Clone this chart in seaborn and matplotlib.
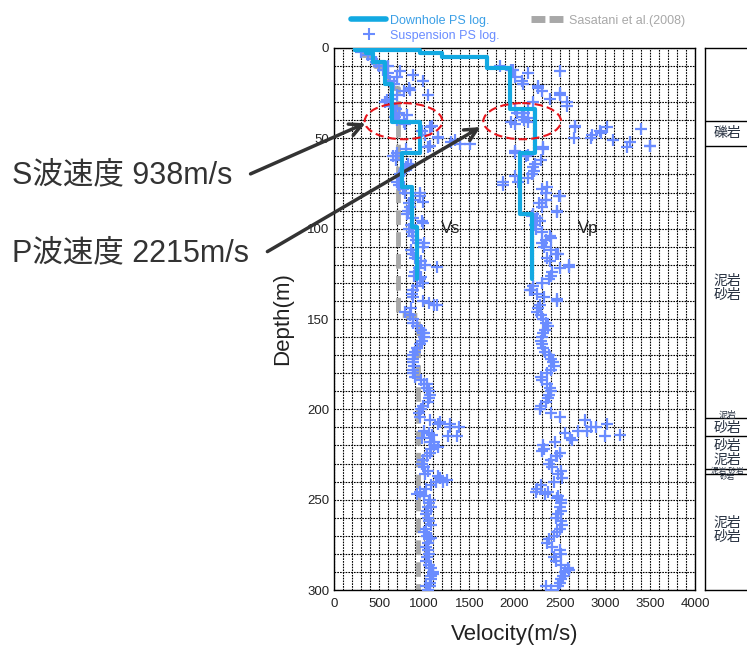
import numpy as np
import matplotlib
matplotlib.use("Agg")
import matplotlib.pyplot as plt
from matplotlib.patches import Ellipse
from matplotlib.lines import Line2D
import seaborn as sns

# --- downhole PS log (layer tops in m, velocity in m/s) ---
vs_dh_top = [0, 1, 3, 8, 20, 41, 58, 77, 99, 128]
vs_dh_vel = [230, 350, 430, 560, 640, 950, 750, 860, 920]
vp_dh_top = [0, 1, 3, 5, 11, 34, 58, 92, 128]
vp_dh_vel = [230, 950, 1200, 1700, 1950, 2230, 2060, 2190]

# --- Sasatani et al. (2008) Vs model ---
sas_top = [0, 4, 10, 22, 148, 300]
sas_vel = [320, 450, 560, 710, 930]

# --- suspension PS log ---
susp_depth = [2, 4, 6, 8, 10, 12, 14, 16, 18, 20,
              22, 24, 26, 28, 30, 32, 34, 36, 38, 40,
              42, 44, 46, 48, 50, 52, 54, 56, 58, 60,
              62, 64, 66, 68, 70, 72, 74, 76, 78, 80,
              82, 84, 86, 88, 90, 92, 94, 96, 98, 100,
              102, 104, 106, 108, 110, 112, 114, 116, 118, 120,
              122, 124, 126, 128, 130, 132, 134, 136, 138, 140,
              142, 144, 146, 148, 150, 152, 154, 156, 158, 160,
              162, 164, 166, 168, 170, 172, 174, 176, 178, 180,
              182, 184, 186, 188, 190, 192, 194, 196, 198, 200,
              202, 204, 206, 208, 210, 212, 214, 216, 218, 220,
              222, 224, 226, 228, 230, 232, 234, 236, 238, 240,
              242, 244, 246, 248, 250, 252, 254, 256, 258, 260,
              262, 264, 266, 268, 270, 272, 274, 276, 278, 280,
              282, 284, 286, 288, 290, 292, 294, 296, 298, 300]
susp_vs = [300, 380, 420, 470, 500, 540, 600, 700, 620, 660,
           830, 780, 700, 620, 560, 640, 690, 720, 680, 700,
           790, 1060, 980, 1010, 1150, 1300, 1060, 800, 700, 650,
           690, 820, 800, 780, 730, 710, 700, 720, 760, 790,
           950, 880, 830, 840, 820, 810, 870, 980, 850, 830,
           860, 880, 910, 930, 990, 850, 880, 900, 960, 1010,
           940, 900, 890, 950, 990, 920, 880, 860, 880, 990,
           1110, 850, 790, 840, 870, 880, 920, 960, 990, 1000,
           980, 950, 920, 900, 880, 870, 880, 890, 870, 880,
           900, 960, 1000, 1030, 1050, 1060, 1050, 1040, 990, 960,
           940, 950, 1060, 1150, 1280, 1000, 1090, 970, 1060, 1110,
           1080, 1060, 1030, 990, 980, 1000, 1040, 1010, 1180, 1130,
           1070, 1020, 950, 1000, 1060, 1050, 1040, 1030, 1020, 1040,
           1050, 1080, 1020, 1000, 1030, 1050, 1040, 1020, 1040, 1050,
           1030, 1020, 1050, 1070, 1100, 1080, 1070, 1060, 1060, 1040]
susp_vp = [np.nan, np.nan, np.nan, np.nan, 1840, 1960, 2150, 2000, 2080, 2090,
           2260, 2300, 2500, 2390, 2200, 2580, 2150, 2030, 2080, 2100,
           2000, 2670, 2950, 2860, 2660, 3280, 3500, 2320, 2000, 2130,
           2290, 2230, 2200, 2220, 2190, 2150, 2040, 1870, 2300, 2350,
           2490, 2350, 2270, 2300, 2470, 2200, 2250, 2280, 2230, 2240,
           2300, 2390, 2350, 2310, 2330, 2400, 2480, 2360, 2390, 2600,
           2500, 2420, 2400, 2380, 2300, 2200, 2190, 2250, 2330, 2470,
           2280, 2260, 2250, 2290, 2320, 2350, 2370, 2340, 2320, 2300,
           2290, 2300, 2320, 2340, 2380, 2400, 2430, 2440, 2400, 2360,
           2290, 2300, 2360, 2390, 2400, 2380, 2370, 2350, 2290, 2280,
           2400, 2500, 2780, 3020, 2900, 2700, 3170, 2620, 2450, 2320,
           2330, 2500, 2460, 2400, 2380, 2420, 2510, 2480, 2530, 2440,
           2290, 2250, 2370, 2480, 2520, 2510, 2500, 2520, 2480, 2460,
           2510, 2530, 2500, 2470, 2440, 2380, 2360, 2420, 2500, 2520,
           2440, 2460, 2510, 2590, 2560, 2540, 2520, 2500, 2480, 2400]

# extra scattered readings
vs_extra_depth = [10, 13, 15, 18, 23, 26, 29, 33, 37, 41, 43, 49, 51, 53, 53,
                  55, 60, 65, 77, 80, 85, 97, 108, 121, 127, 141, 142, 158,
                  186, 207, 208, 210, 215, 215, 213, 218, 221, 237, 239, 240,
                  247, 254, 271, 291, 298]
vs_extra_vel = [600, 730, 880, 990, 840, 1040, 590, 680, 810, 780, 1090, 1150,
                1340, 1400, 1510, 1040, 690, 850, 780, 950, 990, 990, 1000,
                1140, 960, 1050, 1140, 1000, 1030, 1180, 1290, 1380, 1260,
                1360, 1050, 1110, 1150, 1150, 1250, 1210, 920, 1080, 1080,
                1100, 1020]
vp_extra_depth = [13, 12, 21, 25, 30, 34, 36, 39, 41, 41, 43, 44, 45, 47, 50,
                  51, 54, 55, 57, 59, 55, 71, 74, 77, 82, 84, 91, 93, 105,
                  114, 121, 134, 139, 210, 212, 215, 217, 213, 223, 226, 246,
                  247, 249, 289, 298]
vp_extra_vel = [2500, 1980, 2260, 2500, 2580, 2010, 2100, 2150, 1960, 2150,
                2670, 3030, 3400, 2960, 2850, 3090, 3500, 3250, 2000, 2150,
                2320, 2000, 1870, 2360, 2500, 2350, 2470, 2190, 2400, 2460,
                2600, 2170, 2470, 2850, 2800, 3000, 2640, 2560, 2300, 2470,
                2240, 2340, 2470, 2600, 2350]

# --- geological column ---
geo_bounds = [40.4, 54.2, 205, 215, 233, 236]
geo_labels = ["礫岩", "泥岩\n砂岩", "砂岩", "砂岩\n泥岩", "泥岩\n砂岩"]
geo_label_depth = [47.3, 133, 210.5, 224, 267]

c_dh = "#12a9e2"
c_susp = "#6a8cff"
c_sas = "#a8a8a8"
c_text = "#222222"


def step_xy(tops, vels):
    xs, ys = [], []
    for i, v in enumerate(vels):
        xs += [v, v]
        ys += [tops[i], tops[i + 1]]
    return xs, ys


sns.set_style("white")
plt.rcParams["font.family"] = ["Liberation Sans", "Noto Sans CJK JP", "DejaVu Sans"]

fig = plt.figure(figsize=(7.47, 6.47), dpi=100)
ax = fig.add_axes([334 / 747, 1 - 590 / 647, (695 - 334) / 747, (590 - 48) / 647])

# grid
ax.set_xticks(np.arange(0, 4001, 500))
ax.set_xticks(np.arange(0, 4001, 100), minor=True)
ax.set_yticks(np.arange(0, 301, 50))
ax.set_yticks(np.arange(0, 301, 10), minor=True)
ax.grid(which="both", color="k", linestyle=(0, (1.5, 1)), linewidth=0.8, zorder=0)
ax.set_axisbelow(True)

# Sasatani model
sx, sy = step_xy(sas_top, sas_vel)
sns.lineplot(x=sx, y=sy, sort=False, estimator=None, ax=ax, color=c_sas,
             linewidth=3.5, linestyle=(0, (3, 1.5)), zorder=2)

# suspension log
for xv, yv in [(susp_vs, susp_depth), (susp_vp, susp_depth),
               (vs_extra_vel, vs_extra_depth), (vp_extra_vel, vp_extra_depth)]:
    sns.scatterplot(x=xv, y=yv, marker="+", s=70, color=c_susp,
                    linewidth=1.6, ax=ax, zorder=3)

# downhole log
for tops, vels in [(vs_dh_top, vs_dh_vel), (vp_dh_top, vp_dh_vel)]:
    dx, dy = step_xy(tops, vels)
    sns.lineplot(x=dx, y=dy, sort=False, estimator=None, ax=ax, color=c_dh,
                 linewidth=3, zorder=4)

ax.set_xlim(0, 4000)
ax.set_ylim(300, 0)
ax.tick_params(axis="both", which="both", length=0, labelsize=9.5,
               labelcolor=c_text)
ax.tick_params(axis="x", pad=6)
ax.set_xlabel("Velocity(m/s)", fontsize=16, color=c_text, labelpad=10)
ax.set_ylabel("Depth(m)", fontsize=16, color=c_text, labelpad=10)
for s in ax.spines.values():
    s.set_color("k")
    s.set_linewidth(1)

ax.text(1180, 100, "Vs", fontsize=12, color=c_text, va="center")
ax.text(2700, 100, "Vp", fontsize=12, color=c_text, va="center")

# red ellipses
for cx in [770, 2085]:
    ax.add_patch(Ellipse((cx, 40.5), 860, 20, fill=False, edgecolor="#e8141b",
                         linestyle=(0, (4, 2)), linewidth=1.5, zorder=5))

# legend
handles = [
    Line2D([], [], color=c_dh, linewidth=4),
    Line2D([], [], color=c_susp, marker="+", linestyle="none", markersize=8,
           markeredgewidth=1.5),
    Line2D([], [], color=c_sas, linewidth=5, linestyle=(0, (2, 0.6))),
]
ax.legend(handles, ["Downhole PS log.", "Suspension PS log.", "Sasatani et al.(2008)"],
          ncol=2, loc="lower left", bbox_to_anchor=(0.03, 1.0), frameon=False,
          fontsize=9, labelcolor=["#3a9fe6", c_susp, c_sas], handlelength=2.8,
          handletextpad=0.3, columnspacing=2.5, labelspacing=0.25, borderpad=0)

# annotations
ann_kw = dict(fontsize=22, color="#333333", va="center", ha="left")
fig.text(12 / 747, 1 - 175 / 647, "S波速度 938m/s", **ann_kw)
fig.text(12 / 747, 1 - 253 / 647, "P波速度 2215m/s", **ann_kw)
arrow = dict(arrowstyle="->", color="#333333", lw=2.5, mutation_scale=22)
ax.annotate("", xy=(377, 41), xycoords="data",
            xytext=(248 / 747, 1 - 175 / 647), textcoords="figure fraction",
            arrowprops=arrow)
ax.annotate("", xy=(1650, 43), xycoords="data",
            xytext=(265 / 747, 1 - 253 / 647), textcoords="figure fraction",
            arrowprops=arrow)

# geological column
gx = fig.add_axes([705 / 747, 1 - 590 / 647, 0.09, (590 - 48) / 647])
gx.set_xlim(0, 1)
gx.set_ylim(300, 0)
gx.set_xticks([])
gx.set_yticks([])
for s in gx.spines.values():
    s.set_color("k")
    s.set_linewidth(1)
for b in geo_bounds:
    gx.axhline(b, color="k", linewidth=1)
for lab, d in zip(geo_labels, geo_label_depth):
    gx.text(0.33, d, lab, fontsize=10, color="#263040", ha="center",
            va="center", linespacing=1.0)
gx.text(0.33, 203.5, "泥岩", fontsize=6.5, color="#263040", ha="center", va="center")
gx.text(0.33, 235.8, "泥岩 砂岩\n砂岩", fontsize=5.5, color="#263040", ha="center",
        va="center", linespacing=0.8)

fig.savefig("out.png", dpi=100)
